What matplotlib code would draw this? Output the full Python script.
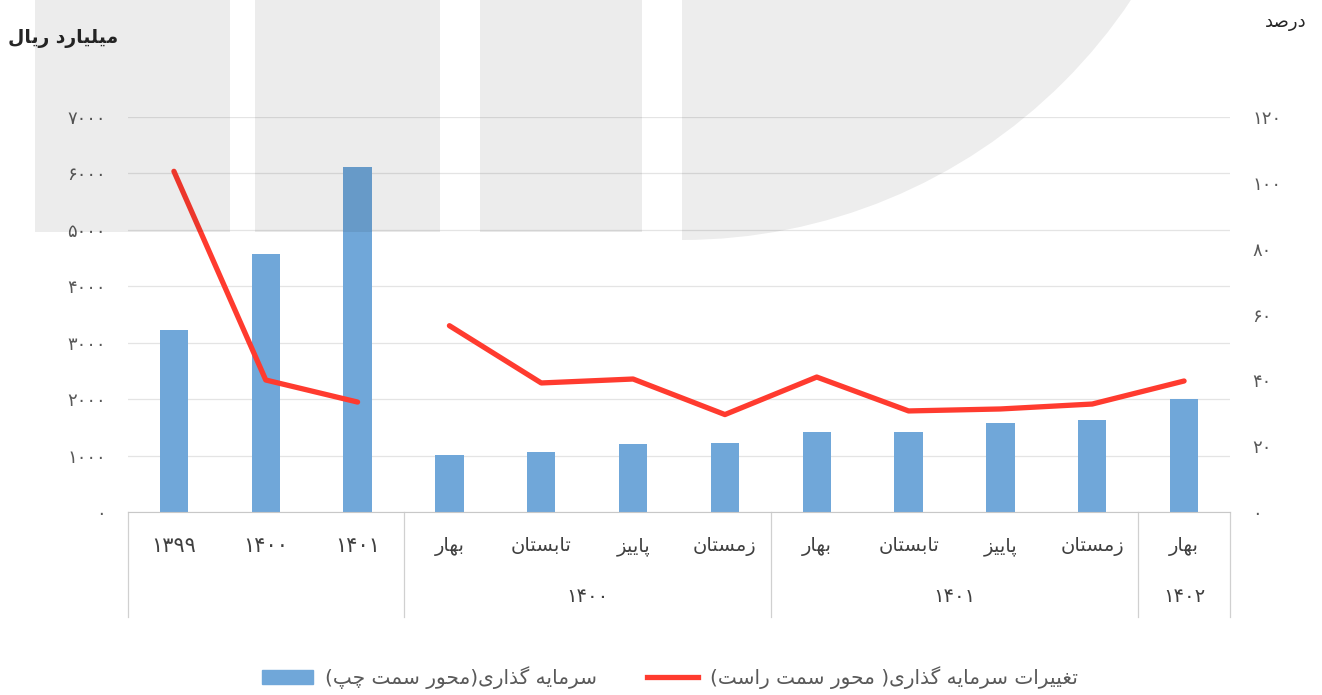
import matplotlib
matplotlib.use("Agg")
import matplotlib.pyplot as plt
import matplotlib.patches as mpatches
from matplotlib.lines import Line2D
import matplotlib.transforms as mtrans

# ---------------- data ----------------
inner_labels = ['۱۳۹۹', '۱۴۰۰', '۱۴۰۱', 'بهار', 'تابستان', 'پاییز', 'زمستان',
                'بهار', 'تابستان', 'پاییز', 'زمستان', 'بهار']
group_labels = ['۱۴۰۰', '۱۴۰۱', '۱۴۰۲']
group_first = [3, 7, 11]
group_last = [6, 10, 11]
investment = [3230, 4570, 6110, 1010, 1065, 1205, 1225, 1420, 1420, 1580, 1630, 2000]
change_annual = [103.5, 40.1, 33.4]
change_quarterly = [56.6, 39.2, 40.4, 29.6, 41.0, 30.7, 31.3, 32.8, 39.8]
left_ticks = [0, 1000, 2000, 3000, 4000, 5000, 6000, 7000]
right_ticks = [0, 20, 40, 60, 80, 100, 120]
left_title = 'میلیارد ریال'
right_title = 'درصد'
legend_bar = 'سرمایه گذاری(محور سمت چپ)'
legend_line = 'تغییرات سرمایه گذاری( محور سمت راست)'

# ------------- minimal Persian shaping (visual order) -------------
FORMS = {
    'ا': ('\uFE8D', '\uFE8E', None, None),
    'ب': ('\uFE8F', '\uFE90', '\uFE91', '\uFE92'),
    'پ': ('\uFB56', '\uFB57', '\uFB58', '\uFB59'),
    'ت': ('\uFE95', '\uFE96', '\uFE97', '\uFE98'),
    'ح': ('\uFEA1', '\uFEA2', '\uFEA3', '\uFEA4'),
    'چ': ('\uFB7A', '\uFB7B', '\uFB7C', '\uFB7D'),
    'د': ('\uFEA9', '\uFEAA', None, None),
    'ذ': ('\uFEAB', '\uFEAC', None, None),
    'ر': ('\uFEAD', '\uFEAE', None, None),
    'ز': ('\uFEAF', '\uFEB0', None, None),
    'س': ('\uFEB1', '\uFEB2', '\uFEB3', '\uFEB4'),
    'ص': ('\uFEB9', '\uFEBA', '\uFEBB', '\uFEBC'),
    'غ': ('\uFECD', '\uFECE', '\uFECF', '\uFED0'),
    'گ': ('\uFB92', '\uFB93', '\uFB94', '\uFB95'),
    'ل': ('\uFEDD', '\uFEDE', '\uFEDF', '\uFEE0'),
    'م': ('\uFEE1', '\uFEE2', '\uFEE3', '\uFEE4'),
    'ن': ('\uFEE5', '\uFEE6', '\uFEE7', '\uFEE8'),
    'ه': ('\uFEE9', '\uFEEA', '\uFEEB', '\uFEEC'),
    'و': ('\uFEED', '\uFEEE', None, None),
    'ی': ('\uFBFC', '\uFBFD', '\uFBFE', '\uFBFF'),
}
MIRROR = {'(': ')', ')': '('}


def fa(text):
    if all(('\u06F0' <= c <= '\u06F9') for c in text):
        return text
    out = []
    n = len(text)
    for i, c in enumerate(text):
        if c not in FORMS:
            out.append(MIRROR.get(c, c))
            continue
        prev = text[i - 1] if i > 0 else None
        nxt = text[i + 1] if i + 1 < n else None
        cp = prev in FORMS and FORMS[prev][2] is not None
        cn = nxt in FORMS and FORMS[c][2] is not None
        iso, fin, ini, med = FORMS[c]
        if cp and cn:
            out.append(med)
        elif cp:
            out.append(fin)
        elif cn:
            out.append(ini)
        else:
            out.append(iso)
    return ''.join(out)[::-1]


def fa_num(v):
    return str(int(v)).translate(str.maketrans('0123456789', '۰۱۲۳۴۵۶۷۸۹'))


plt.rcParams['font.family'] = ['DejaVu Sans']

W, H = 1322, 695
fig = plt.figure(figsize=(W / 100, H / 100), dpi=100)
fig.patch.set_facecolor('white')


def fx(px):
    return px / W


def fy(py):
    return 1 - py / H


ax = fig.add_axes([fx(128), fy(512), fx(1230) - fx(128), fy(117) - fy(512)])
ax.set_facecolor('none')
x = list(range(len(inner_labels)))

bar_color = '#70a7d9'
line_color = '#ff3b2f'
grid_color = '#e4e4e4'
text_gray = '#595959'

ax.bar(x, investment, width=0.31, color=bar_color, zorder=2)
ax.set_xlim(-0.5, len(inner_labels) - 0.5)
ax.set_ylim(0, 7000)
ax.set_yticks(left_ticks)
ax.set_yticklabels([fa_num(v) for v in left_ticks])
ax.tick_params(axis='y', length=0, pad=16, labelsize=13, labelcolor=text_gray)
ax.set_xticks([])
for sp in ['top', 'right', 'left']:
    ax.spines[sp].set_visible(False)
ax.spines['bottom'].set_color('#c8c8c8')
ax.yaxis.grid(True, color=grid_color, linewidth=0.9, zorder=0)
ax.set_axisbelow(True)

ax2 = ax.twinx()
ax2.set_ylim(0, 120)
ax2.set_yticks(right_ticks)
ax2.set_yticklabels([fa_num(v) for v in right_ticks])
ax2.tick_params(axis='y', length=0, pad=16, labelsize=13, labelcolor=text_gray)
for sp in ax2.spines.values():
    sp.set_visible(False)
ax2.plot(x[:3], change_annual, color=line_color, linewidth=3.8,
         solid_capstyle='round', solid_joinstyle='round', zorder=3)
ax2.plot(x[3:], change_quarterly, color=line_color, linewidth=3.8,
         solid_capstyle='round', solid_joinstyle='round', zorder=3)

# multi-level category axis
trans = mtrans.blended_transform_factory(ax.transData, ax.transAxes)
bottom = -(617 - 512) / 395
row1 = -(546 - 512) / 395
row2 = -(597 - 512) / 395
dividers = [-0.5] + [g - 0.5 for g in group_first] + [len(inner_labels) - 0.5]
for d in dividers:
    ax.add_line(Line2D([d, d], [0, bottom], transform=trans, color='#d0d0d0',
                       linewidth=0.9, clip_on=False))
for i, lab in enumerate(inner_labels):
    ax.text(i, row1, fa(lab), transform=trans, ha='center', va='center',
            fontsize=15 if i < 3 else 14, color='#404040')
for lab, a, b in zip(group_labels, group_first, group_last):
    ax.text((a + b) / 2, row2, fa(lab), transform=trans, ha='center', va='center',
            fontsize=14, color='#404040')

fig.text(fx(118), fy(38), fa(left_title), ha='right', va='center', fontsize=13.5,
         fontweight='bold', color='#262626')
fig.text(fx(1306), fy(22), fa(right_title), ha='right', va='center', fontsize=13,
         color='#262626')

handles = [mpatches.Patch(color=bar_color),
           Line2D([0], [0], color=line_color, linewidth=3.8)]
fig.legend(handles, [fa(legend_bar), fa(legend_line)], loc='center',
           bbox_to_anchor=(fx(670), fy(678)), ncol=2, frameon=False,
           fontsize=14.5, labelcolor=text_gray, handlelength=2.5,
           handletextpad=0.6, columnspacing=2.5)

# translucent watermark blocks (drawn over everything like the original)
wm = fig.add_axes([0, 0, 1, 1], zorder=10)
wm.set_xlim(0, W)
wm.set_ylim(H, 0)
wm.axis('off')
wm.patch.set_alpha(0)
for x0, x1 in [(35, 230), (255, 440), (480, 642)]:
    wm.add_patch(mpatches.Rectangle((x0, 0), x1 - x0, 232, color='black',
                                    alpha=0.075, linewidth=0))
wm.add_patch(mpatches.Wedge((682, -300), 540, 0, 90, color='black',
                            alpha=0.07, linewidth=0))

fig.savefig('out.png', dpi=100)
